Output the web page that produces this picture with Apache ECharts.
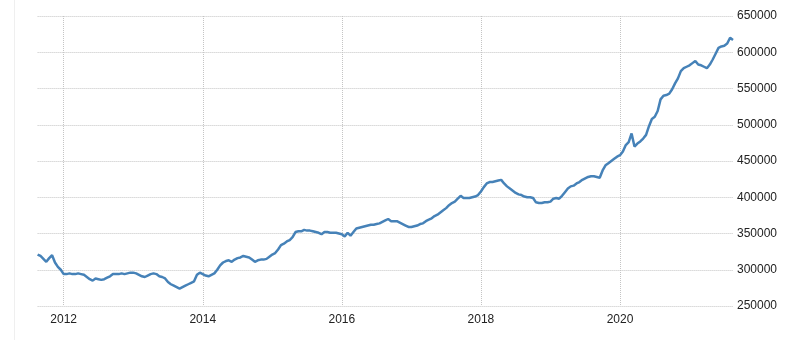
<!DOCTYPE html>
<html>
<head>
<meta charset="utf-8">
<script src="https://cdn.jsdelivr.net/npm/echarts@6/dist/echarts.min.js"></script>
<style>
html,body{margin:0;padding:0;background:#fff;}
#chart{width:805px;height:340px;}
</style>
</head>
<body>
<div id="chart"></div>
<script>
// Half-monthly observations (1st and 16th of each month), from 2011-08-16 to 2021-08-16
const startYear = 2011, startMonth = 8, startHalf = 1; // 2011-08-16
const v2011 = [321000,319000,315000,311000,316000,320000,310000,304000,300000];
const v2012 = [294000,294000,295000,294000,294000,295000,294000,293000,290000,287000,285000,288000,
               287000,286000,287000,289000,291000,294000,294000,294000,295000,294000,295000,296000];
const v2013 = [296000,295000,293000,291000,290000,292000,294000,295000,294000,291000,290000,288000,
               283000,280000,278000,276000,274000,276000,278000,280000,282000,284000,293000,296000];
const v2014 = [294000,292000,291000,293000,295000,300000,306000,310000,312000,313000,311000,314000,
               316000,317000,319000,318000,317000,314000,311000,313000,314000,314000,315000,318000];
const v2015 = [321000,323000,328000,334000,336000,339000,341000,345000,352000,353000,353000,355000,
               354000,354000,353000,352000,351000,349000,352000,352000,351000,351000,351000,350000];
const v2016 = [349000,346000,351000,347000,352000,357000,358000,359000,360000,361000,362000,362000,
               363000,364000,366000,368000,370000,367000,367000,367000,365000,363000,361000,359000];
const v2017 = [359000,360000,361000,363000,364000,367000,369000,371000,374000,376000,379000,382000,
               385000,389000,392000,394000,398000,402000,399000,399000,399000,400000,401000,403000];
const v2018 = [408000,414000,419000,421000,421000,422000,423000,424000,419000,415000,412000,409000,
               406000,404000,403000,401000,400000,400000,399000,393000,392000,392000,393000,393000];
const v2019 = [394000,398000,399000,398000,402000,407000,412000,415000,416000,419000,421000,424000,
               426000,428000,429000,429000,428000,427000,437000,444000,447000,450000,453000,456000];
const v2020 = [458000,463000,472000,476000,488000,470000,474000,477000,481000,486000,498000,508000,
               511000,519000,535000,540000,541000,543000,549000,557000,564000,574000,578000,580000];
const v2021 = [582000,585000,588000,583000,582000,580000,578000,583000,590000,598000,606000,608000,
               609000,612000,620000,617000];
const yTicks = {min: 250000, max: 650000, step: 50000};
const labelYears = [2012, 2014, 2016, 2018, 2020];

const values = [].concat(v2011, v2012, v2013, v2014, v2015, v2016, v2017, v2018, v2019, v2020, v2021);

// build category dates
const categories = [];
let y = startYear, m = startMonth, h = startHalf;
while (categories.length < values.length) {
  categories.push(y + '-' + String(m).padStart(2, '0') + '-' + (h === 0 ? '01' : '16'));
  h++;
  if (h > 1) { h = 0; m++; if (m > 12) { m = 1; y++; } }
}
const isLabelIdx = (idx) => {
  const c = categories[idx];
  return c.endsWith('-01-01') && labelYears.indexOf(+c.slice(0, 4)) >= 0;
};

const chart = echarts.init(document.getElementById('chart'), null, {renderer: 'canvas'});
chart.setOption({
  animation: false,
  backgroundColor: '#ffffff',
  grid: {left: 37.6, right: 72, top: 16, bottom: 34, containLabel: false},
  graphic: [{
    type: 'line', shape: {x1: 14.5, y1: 0, x2: 14.5, y2: 340},
    style: {stroke: '#efefef', lineWidth: 1}, silent: true
  }],
  xAxis: {
    type: 'category',
    data: categories,
    boundaryGap: false,
    axisLine: {show: false},
    axisTick: {show: false},
    axisLabel: {
      interval: (i) => isLabelIdx(i),
      formatter: (v) => v.slice(0, 4),
      color: '#222', fontSize: 12, fontFamily: 'Liberation Sans, Arial, sans-serif',
      margin: 8
    },
    splitLine: {
      show: true,
      interval: (i) => isLabelIdx(i),
      lineStyle: {color: '#c4c4c4', type: [1, 1], width: 1}
    }
  },
  yAxis: {
    type: 'value',
    position: 'right',
    min: yTicks.min, max: yTicks.max, interval: yTicks.step,
    axisLine: {show: false},
    axisTick: {show: false},
    axisLabel: {
      color: '#222', fontSize: 12, fontFamily: 'Liberation Sans, Arial, sans-serif',
      margin: 4, align: 'left',
      formatter: (v) => String(v)
    },
    splitLine: {lineStyle: {color: '#c4c4c4', type: [1, 1], width: 1}}
  },
  series: [{
    type: 'line',
    data: values,
    showSymbol: false,
    symbol: 'none',
    lineStyle: {color: '#4682b8', width: 2.5},
    itemStyle: {color: '#4682b8'}
  }]
});
</script>
</body>
</html>
